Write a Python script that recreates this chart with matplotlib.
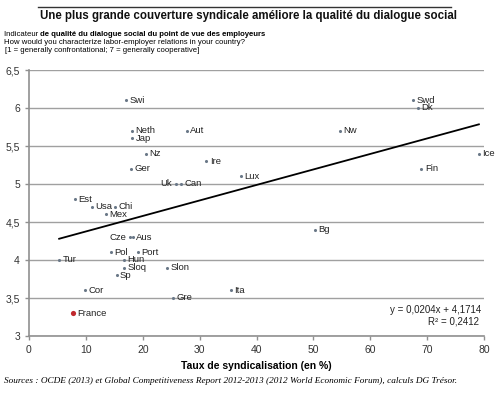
import matplotlib.pyplot as plt
from matplotlib.ticker import FuncFormatter

# data
countries = ["Swi", "Neth", "Jap", "Nz", "Ger", "Aut", "Ire", "Lux", "Uk", "Can",
             "Est", "Usa", "Chi", "Mex", "Cze", "Aus", "Pol", "Port", "Hun", "Sloq",
             "Sp", "Slon", "Tur", "Cor", "Gre", "Ita", "Bg", "Swd", "Dk", "Nw",
             "Fin", "Ice"]
union_rate = [17.0, 18.1, 18.1, 20.5, 18.0, 27.7, 31.2, 37.2, 25.8, 26.7,
              8.1, 11.0, 15.2, 13.5, 17.8, 18.2, 14.4, 19.2, 16.7, 16.7,
              15.4, 24.3, 5.3, 9.8, 25.4, 35.5, 50.3, 67.5, 68.4, 54.7,
              69.0, 79.1]
dialogue = [6.1, 5.7, 5.6, 5.4, 5.2, 5.7, 5.3, 5.1, 5.0, 5.0,
            4.8, 4.7, 4.7, 4.6, 4.3, 4.3, 4.1, 4.1, 4.0, 3.9,
            3.8, 3.9, 4.0, 3.6, 3.5, 3.6, 4.4, 6.1, 6.0, 5.7,
            5.2, 5.4]
france = ("France", 7.8, 3.3)
slope, intercept, r2 = 0.0204, 4.1714, 0.2412

plt.rcParams['font.family'] = ['Liberation Sans', 'DejaVu Sans']

fig = plt.figure(figsize=(5, 3.96), dpi=100)
ax = fig.add_axes([29 / 500, 1 - 336 / 396, 455 / 500, 266 / 396])

ax.scatter(union_rate, dialogue, s=5, color="#6a7888", zorder=3, linewidths=0)
ax.scatter([france[1]], [france[2]], s=14, color="#c0282d", zorder=3, linewidths=0)

# labels, a few sit on the left of their point
left_labels = {"Cze", "Uk"}
for name, x, y in zip(countries, union_rate, dialogue):
    if name in left_labels:
        ax.annotate(name, (x, y), xytext=(-2.5, 0), textcoords="offset points",
                    ha="right", va="center", fontsize=6.8, color="#222222")
    else:
        ax.annotate(name, (x, y), xytext=(2.5, 0), textcoords="offset points",
                    ha="left", va="center", fontsize=6.8, color="#222222")
ax.annotate(france[0], (france[1], france[2]), xytext=(3, 0), textcoords="offset points",
            ha="left", va="center", fontsize=6.8, color="#222222")

# linear trend over the data range
x0, x1 = min(union_rate), max(union_rate)
ax.plot([x0, x1], [slope * x0 + intercept, slope * x1 + intercept], color="black", lw=1.3, zorder=2)

ax.text(79.5, 3.34, "y = 0,0204x + 4,1714", ha="right", va="center", fontsize=7, color="#222222")
ax.text(74.6, 3.195, "R² = {}".format(str(r2).replace(".", ",")), ha="center", va="center",
        fontsize=7, color="#222222")

ax.set_xlim(0, 80)
ax.set_ylim(3, 6.5)
ax.set_xticks(range(0, 81, 10))
ax.set_yticks([3, 3.5, 4, 4.5, 5, 5.5, 6, 6.5])
ax.yaxis.set_major_formatter(FuncFormatter(lambda v, p: ("%g" % v).replace(".", ",")))
ax.grid(axis="y", color="#a0a0a0", lw=1)
ax.set_axisbelow(True)
for s in ["top", "right"]:
    ax.spines[s].set_visible(False)
for s in ["left", "bottom"]:
    ax.spines[s].set_color("#909090")
    ax.spines[s].set_linewidth(1.2)
ax.tick_params(axis="both", labelsize=7.5, colors="#909090", labelcolor="#333333", length=3, width=1)
ax.set_xlabel("Taux de syndicalisation (en %)", fontsize=7.5, fontweight="bold", labelpad=4)

# header
fig.add_artist(plt.Line2D([38 / 500, 451 / 500], [1 - 7 / 396] * 2, color="#333333", lw=1))
fig.text(248 / 500, 1 - 16 / 396, "Une plus grande couverture syndicale améliore la qualité du dialogue social",
         ha="center", va="center", fontsize=8.3, fontweight="bold", color="#111111")
t1 = fig.text(4 / 500, 1 - 35 / 396, "Indicateur ", fontsize=5.6, va="center")
ax.annotate("de qualité du dialogue social du point de vue des employeurs", xy=(1, 0.5),
            xycoords=t1, va="center", ha="left", fontsize=5.6, fontweight="bold", annotation_clip=False)
fig.text(4 / 500, 1 - 42.5 / 396, "How would you characterize labor-employer relations in your country?",
         fontsize=5.6, va="center")
fig.text(5 / 500, 1 - 50 / 396, "[1 = generally confrontational; 7 = generally cooperative]",
         fontsize=5.6, va="center")

fig.text(4 / 500, 1 - 381 / 396,
         "Sources : OCDE (2013) et Global Competitiveness Report 2012-2013 (2012 World Economic Forum), calculs DG Trésor.",
         fontsize=6.7, style="italic", family=["Liberation Serif", "DejaVu Serif"], va="center")

fig.savefig("out.png", dpi=100)
